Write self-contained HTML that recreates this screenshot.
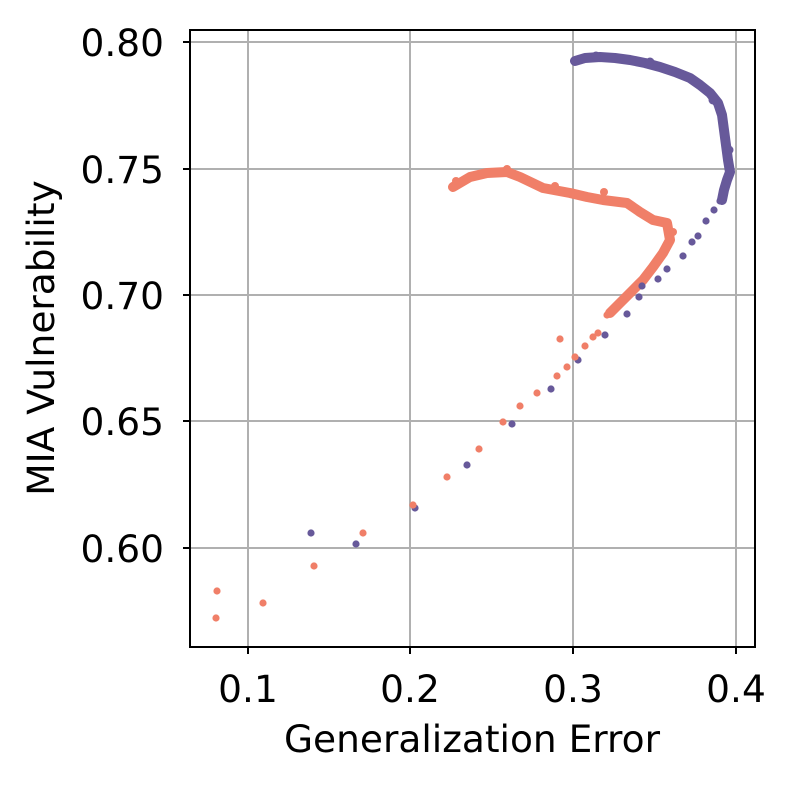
<!DOCTYPE html>
<html><head><style>body{margin:0;background:#fff}</style></head><body>
<svg width="794" height="789" viewBox="0 0 794 789" xmlns="http://www.w3.org/2000/svg" font-family="DejaVu Sans, Liberation Sans, sans-serif">
<rect width="794" height="789" fill="#fff"/>
<g stroke="#b0b0b0" stroke-width="2">
<line x1="248" y1="30" x2="248" y2="647"/><line x1="410" y1="30" x2="410" y2="647"/><line x1="573" y1="30" x2="573" y2="647"/><line x1="736" y1="30" x2="736" y2="647"/>
<line x1="190" y1="42" x2="755" y2="42"/><line x1="190" y1="169" x2="755" y2="169"/><line x1="190" y1="295" x2="755" y2="295"/><line x1="190" y1="421" x2="755" y2="421"/><line x1="190" y1="548" x2="755" y2="548"/>
</g>
<g fill="none" stroke-linecap="round" stroke-linejoin="round" stroke-width="10">
<polyline stroke="#67599a" points="575,61 585,58 600,57 615,58 630,60 645,63 660,67 675,72 690,78 700,85 710,93 718,103 722,115 724,130 726,145 728,160 730,172 727,180 724,190 722,200"/>
<polyline stroke="#f07f68" points="453,187 470,177 487,173 507,172 520,177 543,188 570,193 587,197 603,200 627,203 640,212 653,220 667,223 670,240 663,253 653,267 643,280 633,290 620,303 610,313"/>
</g>
<g fill="#67599a">
<circle cx="720" cy="201" r="3.6"/><circle cx="714" cy="210" r="3.6"/><circle cx="706" cy="221" r="3.6"/><circle cx="698" cy="236" r="3.6"/><circle cx="692" cy="242" r="3.6"/><circle cx="683" cy="256" r="3.6"/><circle cx="667" cy="269" r="3.6"/><circle cx="658" cy="279" r="3.6"/><circle cx="642" cy="286" r="3.6"/><circle cx="639" cy="297" r="3.6"/><circle cx="627" cy="314" r="3.6"/><circle cx="605" cy="335" r="3.6"/><circle cx="578" cy="360" r="3.6"/><circle cx="551" cy="389" r="3.6"/><circle cx="512" cy="424" r="3.6"/><circle cx="467" cy="465" r="3.6"/><circle cx="415" cy="508" r="3.6"/><circle cx="356" cy="544" r="3.6"/><circle cx="311" cy="533" r="3.6"/>
<circle cx="596" cy="56" r="4.5"/><circle cx="650" cy="62" r="4.5"/><circle cx="713" cy="100" r="4.5"/><circle cx="729" cy="150" r="4.5"/>
</g>
<g fill="#f07f68">
<circle cx="607" cy="315" r="3.6"/><circle cx="598" cy="333" r="3.6"/><circle cx="593" cy="337" r="3.6"/><circle cx="585" cy="346" r="3.6"/><circle cx="560" cy="339" r="3.6"/><circle cx="575" cy="357" r="3.6"/><circle cx="567" cy="367" r="3.6"/><circle cx="557" cy="376" r="3.6"/><circle cx="537" cy="393" r="3.6"/><circle cx="520" cy="406" r="3.6"/><circle cx="503" cy="422" r="3.6"/><circle cx="479" cy="449" r="3.6"/><circle cx="447" cy="477" r="3.6"/><circle cx="413" cy="505" r="3.6"/><circle cx="363" cy="533" r="3.6"/><circle cx="314" cy="566" r="3.6"/><circle cx="263" cy="603" r="3.6"/><circle cx="217" cy="591" r="3.6"/><circle cx="216" cy="618" r="3.6"/>
<circle cx="507" cy="169" r="4"/><circle cx="555" cy="186" r="4"/><circle cx="604" cy="192" r="4"/><circle cx="456" cy="181" r="4"/><circle cx="673" cy="232" r="4"/>
</g>
<rect x="190" y="30" width="565" height="617" fill="none" stroke="#000" stroke-width="2"/>
<g stroke="#000" stroke-width="2">
<line x1="248" y1="647" x2="248" y2="654"/><line x1="410" y1="647" x2="410" y2="654"/><line x1="573" y1="647" x2="573" y2="654"/><line x1="736" y1="647" x2="736" y2="654"/>
<line x1="183" y1="42" x2="190" y2="42"/><line x1="183" y1="169" x2="190" y2="169"/><line x1="183" y1="295" x2="190" y2="295"/><line x1="183" y1="421" x2="190" y2="421"/><line x1="183" y1="548" x2="190" y2="548"/>
</g>
<g font-size="37.5" fill="#000" text-anchor="middle">
<text x="248" y="702">0.1</text><text x="410" y="702">0.2</text><text x="573" y="702">0.3</text><text x="736" y="702">0.4</text>
</g>
<g font-size="37.5" fill="#000" text-anchor="end">
<text x="164" y="56">0.80</text><text x="164" y="183">0.75</text><text x="164" y="309">0.70</text><text x="164" y="435">0.65</text><text x="164" y="562">0.60</text>
</g>
<text x="472" y="752" font-size="37.5" text-anchor="middle">Generalization Error</text>
<text transform="translate(54,338) rotate(-90)" font-size="37.5" text-anchor="middle">MIA Vulnerability</text>
</svg>
</body></html>
